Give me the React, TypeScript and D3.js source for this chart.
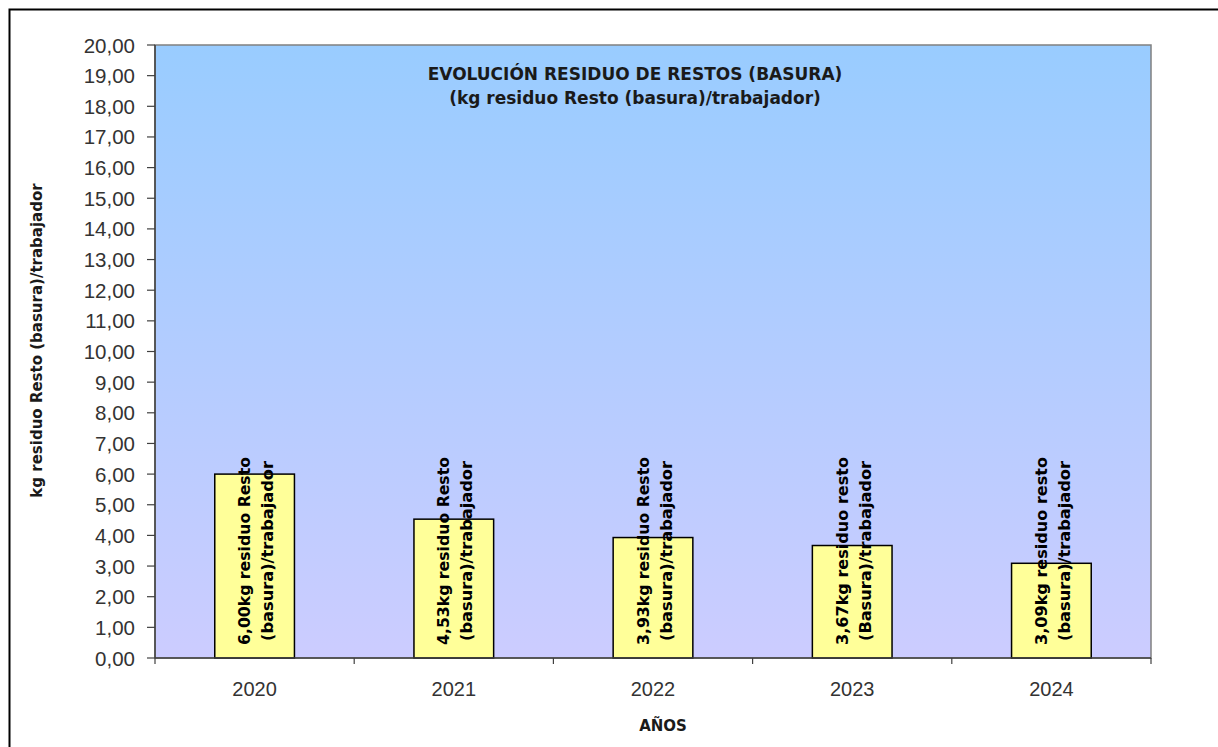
import React from "react";
import * as d3 from "d3";

const categories = ["2020", "2021", "2022", "2023", "2024"];
const values = [6.0, 4.53, 3.93, 3.67, 3.09];
const labelLine1 = [
  "6,00kg residuo Resto",
  "4,53kg residuo Resto",
  "3,93kg residuo Resto",
  "3,67kg residuo resto",
  "3,09kg residuo resto",
];
const labelLine2 = [
  "(basura)/trabajador",
  "(basura)/trabajador",
  "(basura)/trabajador",
  "(Basura)/trabajador",
  "(basura)/trabajador",
];
const yTicks = d3.range(0, 21, 1);
const titleLines = [
  "EVOLUCIÓN RESIDUO DE RESTOS (BASURA)",
  "(kg residuo Resto (basura)/trabajador)",
];
const yTitle = "kg residuo Resto (basura)/trabajador";
const xTitle = "AÑOS";

const W = 1218;
const H = 747;
const left = 155;
const right = 1151;
const top = 45;
const bottom = 658;
const font = "'DejaVu Sans', sans-serif";
const numFont = "'Liberation Sans', Arial, sans-serif";

export default function App() {
  const x = d3.scaleBand<string>().domain(categories).range([left, right]).paddingInner(0).paddingOuter(0);
  const y = d3.scaleLinear().domain([0, 20]).range([bottom, top]);
  const bw = x.bandwidth() * 0.4;
  const fmt = (v: number) => v.toFixed(2).replace(".", ",");
  const labelY = bottom - 107;

  return (
    <svg
      width={W}
      height={H}
      style={{ position: "absolute", left: 0, top: 0, background: "#fff" }}
    >
      <defs>
        <linearGradient id="bg" x1="0" y1="0" x2="0" y2="1">
          <stop offset="0%" stopColor="#99CCFF" />
          <stop offset="100%" stopColor="#CCCCFF" />
        </linearGradient>
      </defs>
      <rect x={9.5} y={9.5} width={W + 20} height={H + 20} fill="#fff" stroke="#000" strokeWidth={2} />
      <rect x={left} y={top} width={right - left} height={bottom - top} fill="url(#bg)" stroke="#808080" strokeWidth={1.5} />

      {categories.map((c, i) => {
        const cx = x(c)! + x.bandwidth() / 2;
        return (
          <g key={c}>
            <rect
              x={cx - bw / 2}
              y={y(values[i])}
              width={bw}
              height={bottom - y(values[i])}
              fill="#FFFF99"
              stroke="#000"
              strokeWidth={1.5}
            />
            <text
              transform={`translate(${cx - 10},${labelY}) rotate(-90)`}
              textAnchor="middle"
              dominantBaseline="central"
              fontFamily={font}
              fontWeight="bold"
              fontSize={16}
              textLength={188}
              lengthAdjust="spacingAndGlyphs"
              fill="#000"
            >
              {labelLine1[i]}
            </text>
            <text
              transform={`translate(${cx + 13},${labelY}) rotate(-90)`}
              textAnchor="middle"
              dominantBaseline="central"
              fontFamily={font}
              fontWeight="bold"
              fontSize={16}
              textLength={180}
              lengthAdjust="spacingAndGlyphs"
              fill="#000"
            >
              {labelLine2[i]}
            </text>
            <text
              x={cx}
              y={689}
              textAnchor="middle"
              dominantBaseline="central"
              fontFamily={numFont}
              fontSize={20}
              fill="#333"
            >
              {c}
            </text>
          </g>
        );
      })}

      {/* axes */}
      <line x1={left} y1={top} x2={left} y2={bottom} stroke="#404040" strokeWidth={1.5} />
      <line x1={left} y1={bottom} x2={right} y2={bottom} stroke="#404040" strokeWidth={1.5} />
      {yTicks.map((t) => (
        <g key={t}>
          <line x1={left - 8} x2={left} y1={y(t)} y2={y(t)} stroke="#404040" strokeWidth={1.2} />
          <text
            x={135}
            y={y(t)}
            textAnchor="end"
            dominantBaseline="central"
            fontFamily={numFont}
            fontSize={20.5}
            fill="#333"
          >
            {fmt(t)}
          </text>
        </g>
      ))}
      {categories.map((c) => (
        <line
          key={"xt" + c}
          x1={x(c)!}
          x2={x(c)!}
          y1={bottom}
          y2={bottom + 6}
          stroke="#404040"
          strokeWidth={1.2}
        />
      ))}
      <line x1={right} x2={right} y1={bottom} y2={bottom + 6} stroke="#404040" strokeWidth={1.2} />

      {/* titles */}
      {titleLines.map((t, i) => (
        <text
          key={t}
          x={635}
          y={74 + i * 24}
          textAnchor="middle"
          dominantBaseline="central"
          fontFamily={font}
          fontWeight="bold"
          fontSize={17}
          fill="#1a1a1a"
        >
          {t}
        </text>
      ))}
      <text
        transform={`translate(37,${(top + bottom) / 2 - 11}) rotate(-90)`}
        textAnchor="middle"
        dominantBaseline="central"
        fontFamily={font}
        fontWeight="bold"
        fontSize={15}
        fill="#1a1a1a"
      >
        {yTitle}
      </text>
      <text
        x={663}
        y={726}
        textAnchor="middle"
        dominantBaseline="central"
        fontFamily={font}
        fontWeight="bold"
        fontSize={15}
        fill="#1a1a1a"
      >
        {xTitle}
      </text>
    </svg>
  );
}
